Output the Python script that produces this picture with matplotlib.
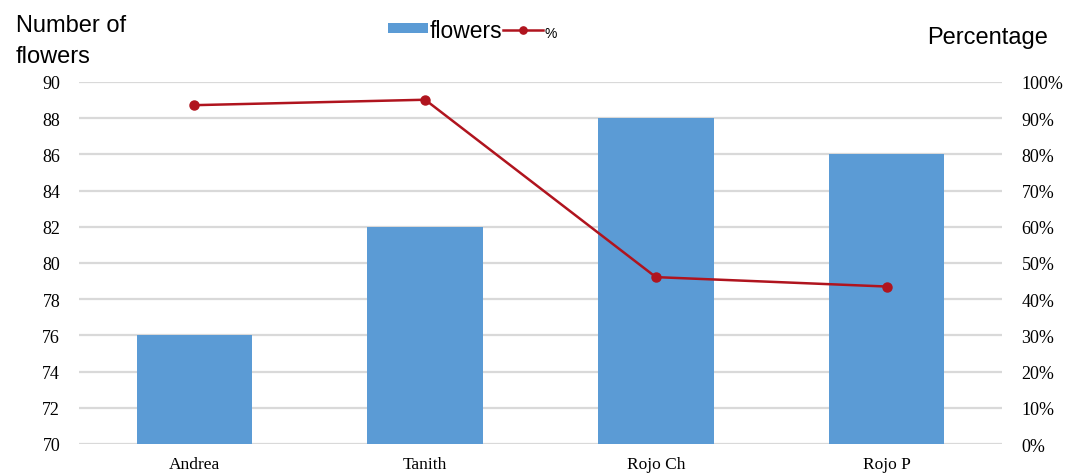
import matplotlib
matplotlib.use("Agg")
import matplotlib.pyplot as plt
from matplotlib.ticker import PercentFormatter

categories = ["Andrea", "Tanith", "Rojo Ch", "Rojo P"]
flowers = [76, 82, 88, 86]
percent = [93.6, 95.1, 46.1, 43.5]
left_ticks = list(range(70, 91, 2))
right_ticks = list(range(0, 101, 10))

bar_color = "#5B9BD5"
line_color = "#B0141E"
grid_color = "#D9D9D9"
serif = "Liberation Serif"
sans = "Liberation Sans"

W, H = 1081, 477
fig = plt.figure(figsize=(W / 100, H / 100), dpi=100)
ax = fig.add_axes([79 / W, 1 - 445 / H, (1002 - 79) / W, (445 - 83) / H])
ax2 = ax.twinx()

x = range(len(categories))
bars = ax.bar(x, flowers, width=0.5, color=bar_color, label="flowers", zorder=2)
ax.set_ylim(70, 90)
ax.set_xlim(-0.5, len(categories) - 0.5)
ax.set_yticks(left_ticks)
ax.set_xticks(list(x))
ax.set_xticklabels(categories, fontfamily=serif, fontsize=12.5)
ax.yaxis.grid(True, color=grid_color, linewidth=1.6, zorder=0)
ax.set_axisbelow(True)
ax.tick_params(axis="y", length=0, labelsize=13, pad=13.5)
ax.tick_params(axis="x", length=0, pad=8.5)
for lab in ax.get_yticklabels():
    lab.set_fontfamily(serif)
for s in ax.spines.values():
    s.set_visible(False)

line, = ax2.plot(list(x), percent, color=line_color, linewidth=1.8,
                 marker="o", markersize=6.5, label="%", zorder=3)
ax2.set_ylim(0, 100)
ax2.set_yticks(right_ticks)
ax2.yaxis.set_major_formatter(PercentFormatter(decimals=0))
ax2.tick_params(axis="y", length=0, labelsize=13, pad=14)
for lab in ax2.get_yticklabels():
    lab.set_fontfamily(serif)
for s in ax2.spines.values():
    s.set_visible(False)

# Axis titles
fig.text(16 / W, 1 - 32 / H, "Number of", fontfamily=sans, fontsize=17,
         ha="left", va="baseline")
fig.text(16 / W, 1 - 63 / H, "flowers", fontfamily=sans, fontsize=17,
         ha="left", va="baseline")
fig.text(927 / W, 1 - 44 / H, "Percentage", fontfamily=sans, fontsize=17,
         ha="left", va="baseline")

leg = fig.legend(handles=[bars, line], loc="center", bbox_to_anchor=(0.437, 0.935),
                 ncol=2, frameon=False, handlelength=1.75, handleheight=0.32,
                 handletextpad=0.1, columnspacing=0.0, markerscale=0.8,
                 prop={"family": sans, "size": 16.5})
leg.get_texts()[1].set_fontsize(10)

fig.savefig("out.png", dpi=100, facecolor="white")
